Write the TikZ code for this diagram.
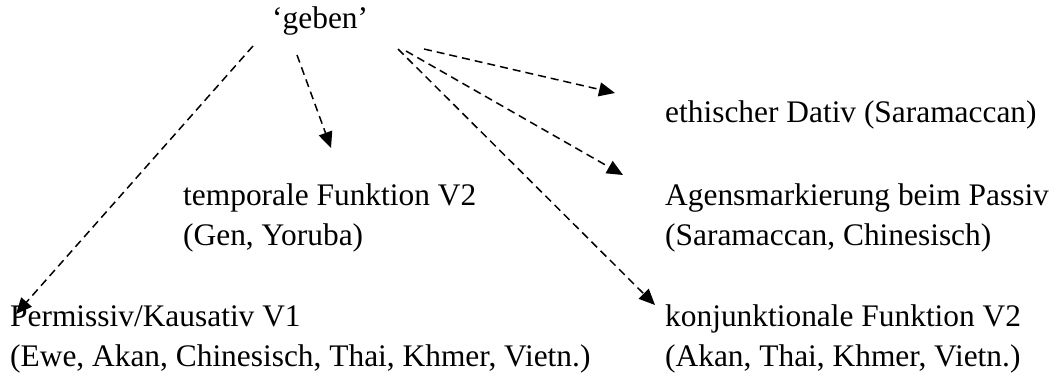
\documentclass[tikz,border=0pt]{standalone}
\usepackage{fontspec}
\setmainfont{Liberation Serif}
\usetikzlibrary{arrows.meta}
\begin{document}
\begin{tikzpicture}[x=1pt,y=-1pt,
  lbl/.style={anchor=base west,inner sep=0pt,font=\fontsize{31.4}{40}\selectfont,align=left},
  dasharrow/.style={line width=1.5pt,dash pattern=on 8pt off 5pt,
    -{Triangle[length=16pt,width=14pt]}}]
\useasboundingbox (0,0) rectangle (1057,376);

% source verb and target functions (base anchor = baseline of last line)
\node[lbl] (geben) at (272,28) {‘geben’};
\node[lbl] (temp) at (183,245) {temporale Funktion V2\\(Gen, Yoruba)};
\node[lbl] (perm) at (10,366) {Permissiv/Kausativ V1\\(Ewe, Akan, Chinesisch, Thai, Khmer, Vietn.)};
\node[lbl] (eth) at (665,122) {ethischer Dativ (Saramaccan)};
\node[lbl] (agens) at (665,245) {Agensmarkierung beim Passiv\\(Saramaccan, Chinesisch)};
\node[lbl] (konj) at (665,366) {konjunktionale Funktion V2\\(Akan, Thai, Khmer, Vietn.)};

% arrow start points around the source
\coordinate (s-perm) at (253,46);
\coordinate (s-temp) at (297,55);
\coordinate (s-konj) at (398,49);
\coordinate (s-agens) at (406,51);
\coordinate (s-eth) at (424,49);

% arrow tips beside the targets
\coordinate (t-perm) at (16,314);
\coordinate (t-temp) at (331,148);
\coordinate (t-eth) at (615,93);
\coordinate (t-agens) at (623,175);
\coordinate (t-konj) at (655,305);

\draw[dasharrow] (s-perm) -- (t-perm);
\draw[dasharrow] (s-temp) -- (t-temp);
\draw[dasharrow] (s-eth) -- (t-eth);
\draw[dasharrow] (s-agens) -- (t-agens);
\draw[dasharrow] (s-konj) -- (t-konj);
\end{tikzpicture}
\end{document}
